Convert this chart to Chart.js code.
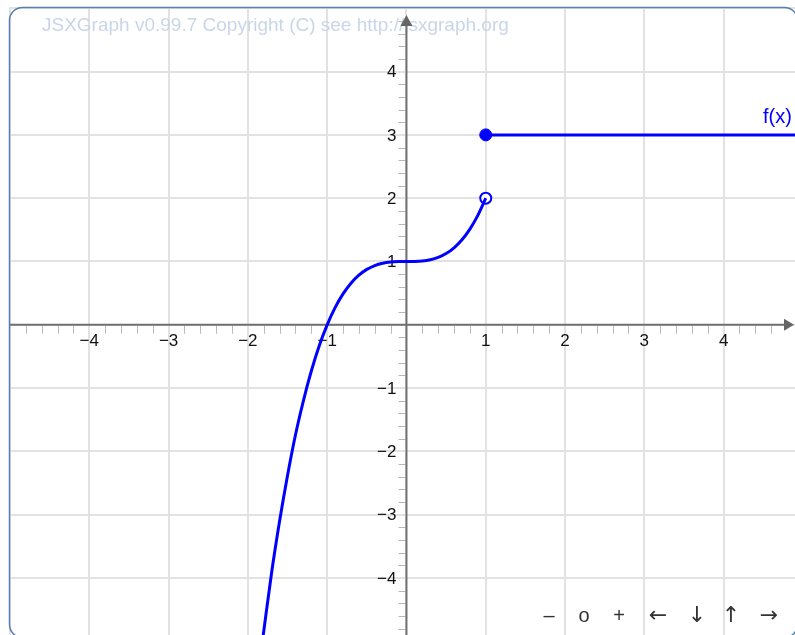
<!DOCTYPE html>
<html>
<head>
<meta charset="utf-8">
<script src="https://cdn.jsdelivr.net/npm/chart.js@4/dist/chart.umd.min.js"></script>
<style>
html,body{margin:0;padding:0;background:#fff;overflow:hidden;width:795px;height:635px;}
#wrap{position:relative;width:795px;height:635px;overflow:hidden;}
#c{display:block;width:795px;height:635px;}
</style>
</head>
<body>
<div id="wrap"><canvas id="c" width="795" height="635"></canvas></div>
<script>
// Values
const curveX = [-1.82,-1.7,-1.6,-1.5,-1.4,-1.3,-1.2,-1.1,-1.0,-0.9,-0.8,-0.7,-0.6,-0.5,-0.4,-0.3,-0.2,-0.1,0,0.1,0.2,0.3,0.4,0.5,0.6,0.7,0.8,0.9,1.0];
const curveY = [-5.03,-3.91,-3.10,-2.38,-1.74,-1.20,-0.73,-0.33,0,0.271,0.488,0.657,0.784,0.875,0.936,0.973,0.992,0.999,1.0,1.001,1.008,1.027,1.064,1.125,1.216,1.343,1.512,1.729,2.0];
const stepX = [1, 5.5];
const stepY = [3, 3];
const closedPoint = [1, 3];
const openPoint = [1, 2];
const xTickValues = [-4,-3,-2,-1,1,2,3,4];
const xTickLabels = ['\u22124','\u22123','\u22122','\u22121','1','2','3','4'];
const yTickValues = [4,3,2,1,-1,-2,-3,-4];
const yTickLabels = ['4','3','2','1','\u22121','\u22122','\u22123','\u22124'];
const gridValuesX = [-5,-4,-3,-2,-1,0,1,2,3,4];
const gridValuesY = [5,4,3,2,1,0,-1,-2,-3,-4];
const curveName = 'f(x)';
const copyrightText = 'JSXGraph v0.99.7 Copyright (C) see http://jsxgraph.org';
const navButtons = ['\u2013','o','+','\u2190','\u2193','\u2191','\u2192'];

const FONT = "'Liberation Sans', Arial, sans-serif";
const BLUE = '#0000ff';

const boardPlugin = {
  id: 'board',
  beforeDatasetsDraw(chart) {
    const ctx = chart.ctx;
    const xs = chart.scales.x, ys = chart.scales.y;
    const a = chart.chartArea;
    ctx.save();
    // grid
    ctx.strokeStyle = '#e2e2e2';
    ctx.lineWidth = 2;
    gridValuesX.forEach(v => {
      const px = Math.round(xs.getPixelForValue(v));
      ctx.beginPath(); ctx.moveTo(px, a.top); ctx.lineTo(px, a.bottom); ctx.stroke();
    });
    gridValuesY.forEach(v => {
      const py = Math.round(ys.getPixelForValue(v));
      ctx.beginPath(); ctx.moveTo(a.left, py); ctx.lineTo(a.right, py); ctx.stroke();
    });
    // copyright
    ctx.fillStyle = '#c9d6e9';
    ctx.font = '19px ' + FONT;
    ctx.textAlign = 'left';
    ctx.textBaseline = 'alphabetic';
    ctx.fillText(copyrightText, 42, 31);

    const x0 = xs.getPixelForValue(0);
    const y0 = ys.getPixelForValue(0);
    // minor ticks
    ctx.strokeStyle = '#b8b8b8';
    ctx.lineWidth = 1;
    for (let i = -25; i <= 25; i++) {
      if (i % 5 === 0) continue;
      const v = i / 5;
      const px = Math.round(xs.getPixelForValue(v)) + 0.5;
      if (px > a.left && px < a.right - 10) {
        ctx.beginPath(); ctx.moveTo(px, y0 + 1); ctx.lineTo(px, y0 + 9); ctx.stroke();
      }
      const py = Math.round(ys.getPixelForValue(v)) + 0.5;
      if (py > a.top + 14 && py < a.bottom) {
        ctx.beginPath(); ctx.moveTo(x0 - 8, py); ctx.lineTo(x0 - 1, py); ctx.stroke();
      }
    }
    // axes
    ctx.strokeStyle = '#707070';
    ctx.fillStyle = '#666666';
    ctx.lineWidth = 2;
    ctx.beginPath(); ctx.moveTo(a.left, y0); ctx.lineTo(a.right - 8, y0); ctx.stroke();
    ctx.beginPath(); ctx.moveTo(a.right - 1, y0); ctx.lineTo(a.right - 11, y0 - 6); ctx.lineTo(a.right - 11, y0 + 6); ctx.closePath(); ctx.fill();
    ctx.beginPath(); ctx.moveTo(x0, a.bottom); ctx.lineTo(x0, a.top + 14); ctx.stroke();
    ctx.beginPath(); ctx.moveTo(x0, a.top + 8); ctx.lineTo(x0 - 6, a.top + 19); ctx.lineTo(x0 + 6, a.top + 19); ctx.closePath(); ctx.fill();
    // tick labels
    ctx.fillStyle = '#111111';
    ctx.font = '17px ' + FONT;
    ctx.textAlign = 'center';
    ctx.textBaseline = 'middle';
    xTickValues.forEach((v, i) => {
      ctx.fillText(xTickLabels[i], xs.getPixelForValue(v), y0 + 17);
    });
    ctx.textAlign = 'right';
    yTickValues.forEach((v, i) => {
      ctx.fillText(yTickLabels[i], x0 - 10, ys.getPixelForValue(v) + 1);
    });
    ctx.restore();
  },
  afterDraw(chart) {
    const ctx = chart.ctx;
    ctx.save();
    // curve name
    ctx.fillStyle = BLUE;
    ctx.font = '20px ' + FONT;
    ctx.textAlign = 'left';
    ctx.textBaseline = 'middle';
    ctx.fillText(curveName, 763, 117);
    // navigation
    ctx.fillStyle = '#333333';
    ctx.textAlign = 'center';
    const navX = [549, 584, 619, 658, 697, 731, 769];
    navButtons.forEach((t, i) => {
      ctx.font = (i < 3 ? '20px ' + FONT : "22px 'DejaVu Sans', sans-serif");
      ctx.fillText(t, navX[i], 616);
    });
    // border
    ctx.strokeStyle = '#5a7db3';
    ctx.lineWidth = 1.5;
    ctx.beginPath();
    if (ctx.roundRect) ctx.roundRect(9.5, 7.5, 788, 630, 13);
    else ctx.rect(9.5, 7.5, 788, 630);
    ctx.stroke();
    ctx.restore();
  }
};

new Chart(document.getElementById('c'), {
  type: 'scatter',
  data: {
    datasets: [
      {
        data: curveX.map((x, i) => ({x, y: curveY[i]})),
        showLine: true, borderColor: BLUE, borderWidth: 3, pointRadius: 0,
        tension: 0.3, fill: false
      },
      {
        data: stepX.map((x, i) => ({x, y: stepY[i]})),
        showLine: true, borderColor: BLUE, borderWidth: 3, pointRadius: 0, fill: false
      },
      {
        data: [{x: openPoint[0], y: openPoint[1]}],
        pointRadius: 5.5, pointBackgroundColor: '#ffffff', pointBorderColor: BLUE, pointBorderWidth: 2
      },
      {
        data: [{x: closedPoint[0], y: closedPoint[1]}],
        pointRadius: 6, pointBackgroundColor: BLUE, pointBorderColor: BLUE, pointBorderWidth: 1
      }
    ]
  },
  options: {
    responsive: false,
    maintainAspectRatio: false,
    devicePixelRatio: 1,
    animation: false,
    layout: { autoPadding: false, padding: { left: 10, top: 7, right: 0, bottom: 0 } },
    plugins: { legend: { display: false }, tooltip: { enabled: false } },
    scales: {
      x: { type: 'linear', display: false, min: -5, max: 4.9 },
      y: { type: 'linear', display: false, min: -4.9, max: 5.02 }
    }
  },
  plugins: [boardPlugin]
});
</script>
</body>
</html>
